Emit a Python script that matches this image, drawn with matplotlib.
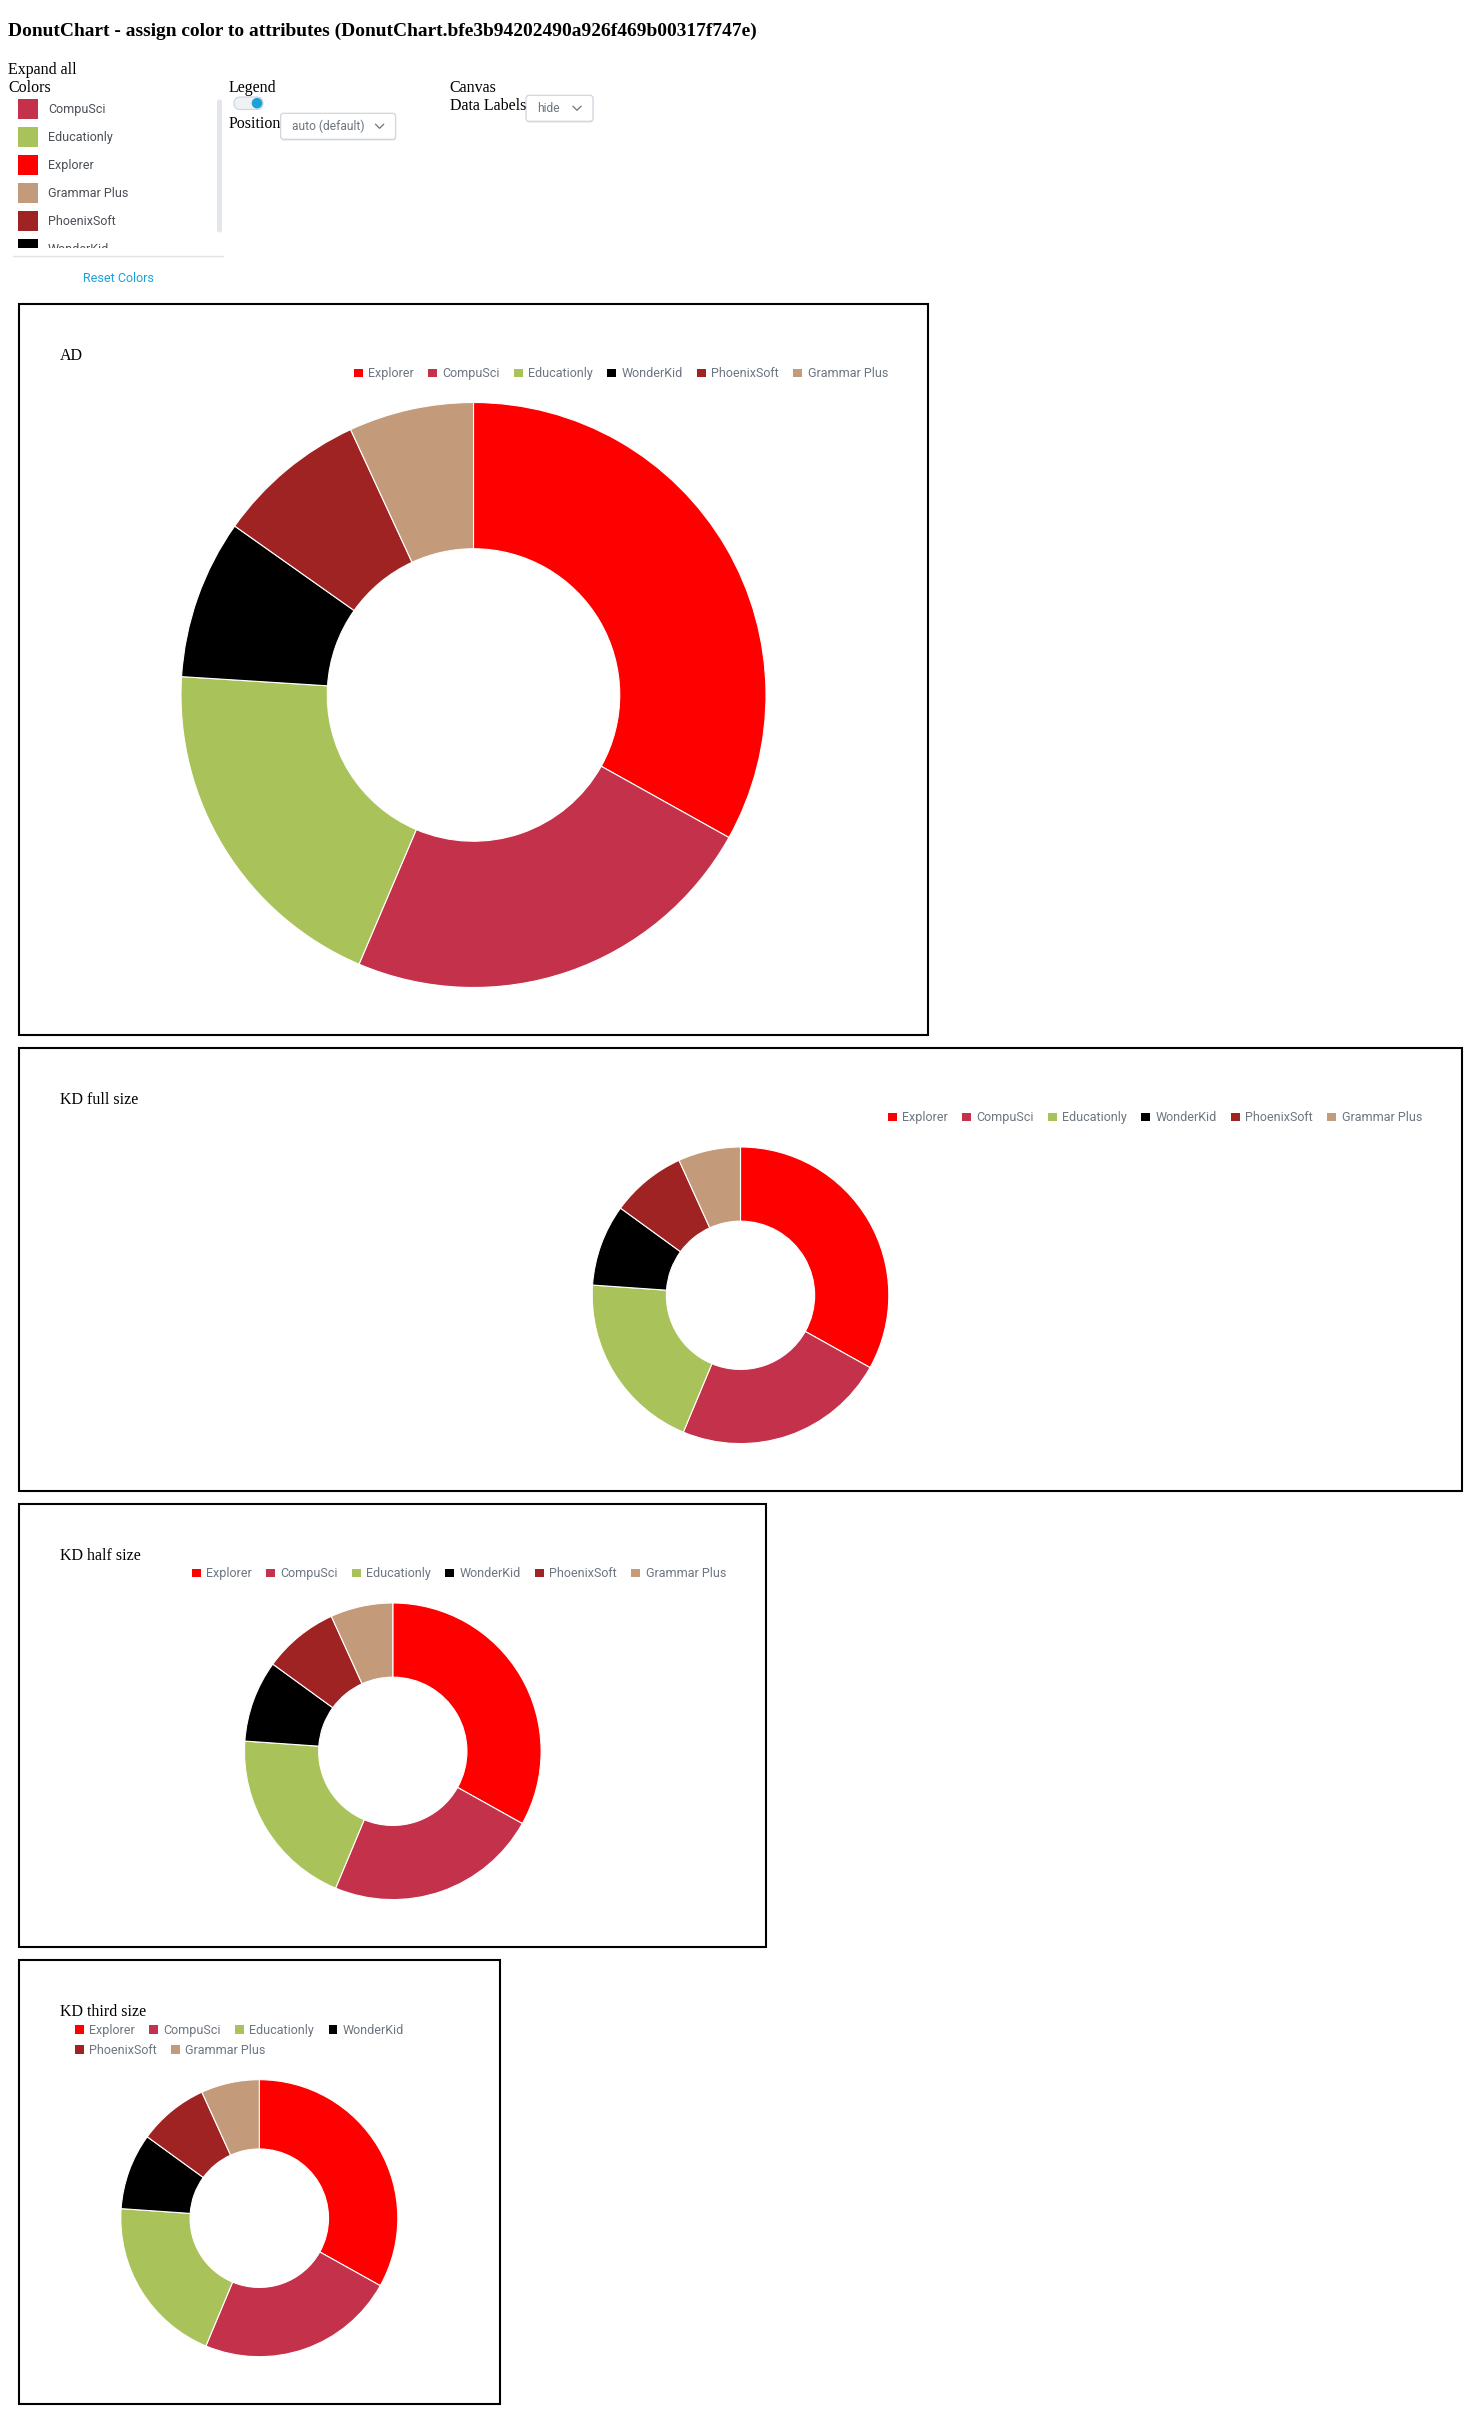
import matplotlib
matplotlib.use("Agg")
import matplotlib.pyplot as plt
from matplotlib.patches import Rectangle, FancyBboxPatch, Circle

W, H = 1464, 2415

page_title = "DonutChart - assign color to attributes (DonutChart.bfe3b94202490a926f469b00317f747e)"

series = ["Explorer", "CompuSci", "Educationly", "WonderKid", "PhoenixSoft", "Grammar Plus"]
series_colors = ["#ff0000", "#c3314a", "#a9c259", "#000000", "#a02323", "#c39a7a"]
ad_values = [33.1, 23.3, 19.6, 8.8, 8.3, 6.9]
kd_values = [33.1, 23.2, 19.8, 8.9, 8.2, 6.8]

# the colour picker lists the attributes by name
picker_names = sorted(series)

chart_titles = ["AD", "KD full size", "KD half size", "KD third size"]
chart_values = [ad_values, kd_values, kd_values, kd_values]

# box (x0, y0, x1, y1), donut centre + radius, legend wraps?  (pixels, top-left origin)
boxes = [(19, 303.5, 928, 1035), (19, 1047.5, 1462, 1491),
         (19, 1503.5, 766, 1947), (19, 1959.5, 500, 2404)]
donuts = [(473.5, 695, 292.5), (740.5, 1295.3, 148.3), (392.8, 1751.3, 148.3), (259.3, 2218.2, 138.5)]
wrap_legend = [False, False, False, True]

SERIF = "Liberation Serif"
SANS = "Roboto"
LEG_FS = 9.0
GREY_TXT = "#6c7580"
BLUE = "#1ba1d8"
SERIF_DY = 2.2  # browser text sits a little lower than matplotlib's centre


def pt(px):
    return px * 0.72


fig = plt.figure(figsize=(W / 100, H / 100), dpi=100)
bg = fig.add_axes([0, 0, 1, 1])
bg.set_xlim(0, W)
bg.set_ylim(H, 0)
bg.axis("off")
renderer = fig.canvas.get_renderer()


def text_width(s, size, family):
    t = bg.text(0, 0, s, fontsize=size, family=family)
    w = t.get_window_extent(renderer).width
    t.remove()
    return w


def serif(x, y, s, **kw):
    bg.text(x, y + SERIF_DY, s, fontsize=pt(16), family=SERIF, va="center", **kw)


def chevron(x, y):
    bg.plot([x - 4, x, x + 4], [y - 2, y + 2, y - 2], color="#6c757d", lw=0.9)


def dropdown(x, y, w, h, label):
    bg.add_patch(FancyBboxPatch((x + 0.5, y + 1.5), w, h, boxstyle="round,pad=0,rounding_size=3",
                                fc="#e9ecef", ec="none"))
    bg.add_patch(FancyBboxPatch((x, y), w, h, boxstyle="round,pad=0,rounding_size=3",
                                fc="white", ec="#cfd6dd", lw=0.9))
    bg.text(x + 11, y + h / 2 + 0.5, label, fontsize=pt(12), family=SANS, color="#6c757d", va="center")
    chevron(x + w - 16, y + h / 2)


# ---- page header / controls ----
bg.text(8, 31, page_title, fontsize=pt(19.4), family=SERIF, weight="bold", va="center")
serif(8, 68, "Expand all")
serif(8, 86, "Colors")

clip = Rectangle((0, 95), 216, 153, transform=bg.transData, fc="none", ec="none")
bg.add_patch(clip)
for i, name in enumerate(picker_names):
    yc = 109 + 28 * i
    sq = Rectangle((18.3, yc - 10), 19.7, 20, fc=series_colors[series.index(name)], ec="none")
    bg.add_patch(sq)
    sq.set_clip_path(clip)
    t = bg.text(48, yc + 0.5, name, fontsize=pt(12.5), family=SANS, color="#4a4f55",
                va="center", clip_on=True)
    t.set_clip_path(clip)

bg.add_patch(FancyBboxPatch((217, 99.5), 5, 133, boxstyle="round,pad=0,rounding_size=2.5",
                            fc="#e3e7eb", ec="none"))
bg.plot([13, 223], [256, 256], color="#dfe4e8", lw=1)
bg.text(118.7, 278, "Reset Colors", fontsize=pt(12.5), family=SANS, color=BLUE, ha="center", va="center")

serif(229, 86, "Legend")
bg.add_patch(FancyBboxPatch((234, 97), 29, 12.5, boxstyle="round,pad=0,rounding_size=6.2",
                            fc="#eef2f5", ec="#cdd4da", lw=0.8))
bg.add_patch(Circle((257, 103.2), 5.3, fc=BLUE, ec="none"))
serif(229, 122, "Position")
dropdown(280.6, 113.3, 115, 26, "auto (default)")

serif(449.6, 86, "Canvas")
serif(449.6, 104, "Data Labels")
dropdown(526, 95.3, 67, 26, "hide")


# ---- chart cards ----
def draw_legend(x0, x1, y, wrap):
    sq, gap, item_gap = 8.7, 5.5, 14.3
    widths = [text_width(n, LEG_FS, SANS) for n in series]
    rows, cur, cur_w = [], [], 0
    for i, w in enumerate(widths):
        add = sq + gap + w + (item_gap if cur else 0)
        if wrap and cur and x0 + cur_w + add > x1:
            rows.append(cur)
            cur, cur_w = [], 0
            add = sq + gap + w
        cur.append(i)
        cur_w += add
    rows.append(cur)
    for r, row in enumerate(rows):
        total = sum(sq + gap + widths[i] for i in row) + item_gap * (len(row) - 1)
        x = x0 if wrap else x1 - total
        yy = y + 20 * r
        for i in row:
            bg.add_patch(Rectangle((x, yy - sq / 2), sq, sq, fc=series_colors[i], ec="none"))
            bg.text(x + sq + gap, yy + 0.8, series[i], fontsize=LEG_FS, family=SANS, color=GREY_TXT, va="center")
            x += sq + gap + widths[i] + item_gap


for title, vals, box, dn, wrap in zip(chart_titles, chart_values, boxes, donuts, wrap_legend):
    x0, y0, x1, y1 = box
    bg.add_patch(Rectangle((x0, y0), x1 - x0, y1 - y0, fc="none", ec="black", lw=1.5))
    serif(60, y0 + 50, title)
    if wrap:
        draw_legend(75, x1 - 50, y0 + 69.8, True)
    else:
        draw_legend(x0, x1 - 40, y0 + 69.5, False)

    cx, cy, r = dn
    rr = r * 1.01
    ax = fig.add_axes([(cx - rr) / W, 1 - (cy + rr) / H, 2 * rr / W, 2 * rr / H])
    ax.pie(vals, colors=series_colors, startangle=90, counterclock=False,
           wedgeprops=dict(width=0.5, edgecolor="white", linewidth=0.8))
    ax.set_xlim(-1.01, 1.01)
    ax.set_ylim(-1.01, 1.01)
    ax.set_aspect("equal")

fig.savefig("out.png", dpi=100)
